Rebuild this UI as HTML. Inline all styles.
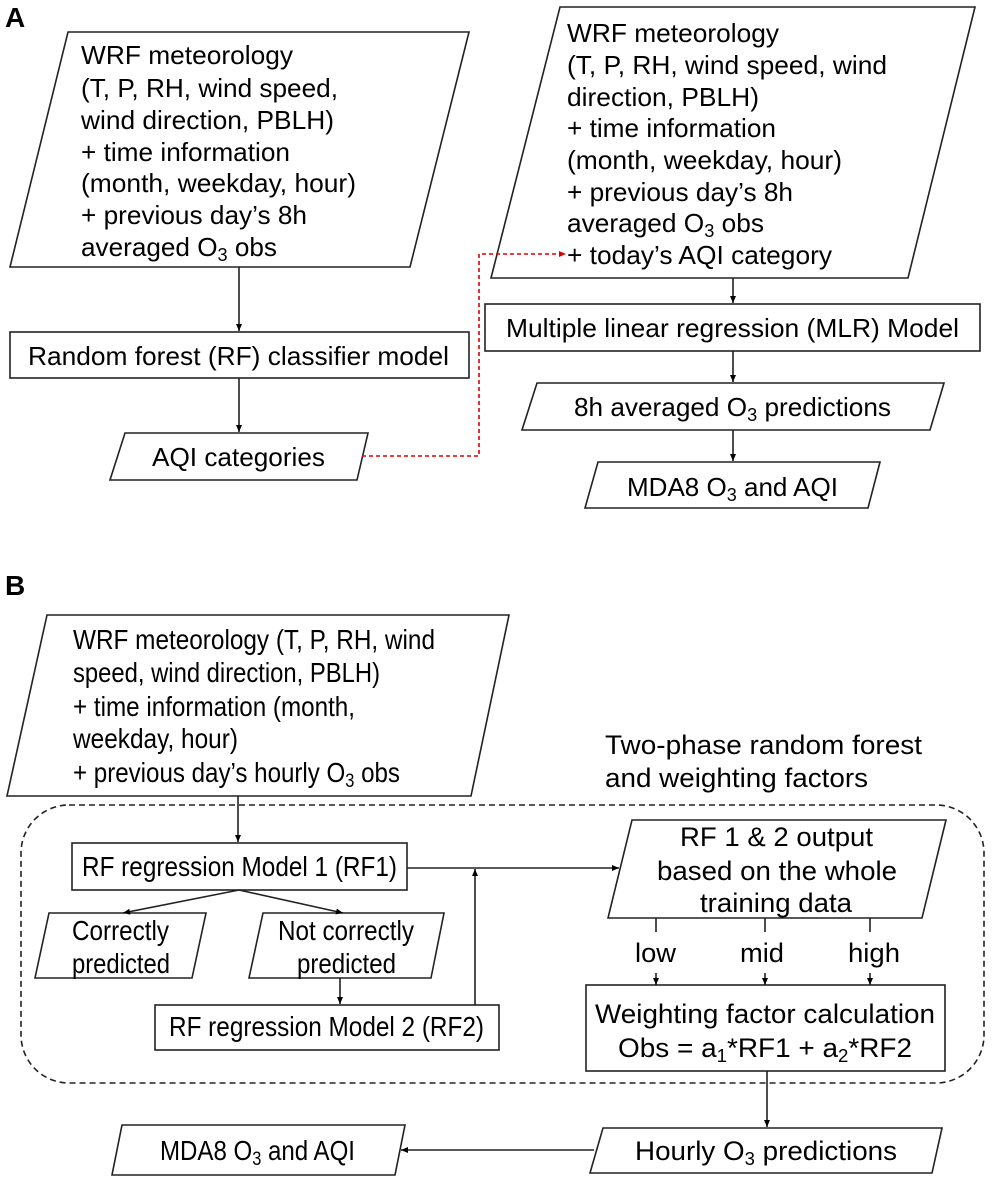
<!DOCTYPE html>
<html><head><meta charset="utf-8"><style>
html,body{margin:0;padding:0;background:#fff;}
svg{display:block;font-family:"Liberation Sans",Arial,sans-serif;}
text{fill:#000;}
</style></head><body>
<svg width="992" height="1184" viewBox="0 0 992 1184" xmlns="http://www.w3.org/2000/svg">
<defs>
<marker id="ah" markerWidth="8" markerHeight="8" refX="7" refY="4" orient="auto" markerUnits="userSpaceOnUse"><path d="M0,1 L7,4 L0,7 z" fill="#000"/></marker>
<marker id="ahr" markerWidth="8" markerHeight="8" refX="7" refY="4" orient="auto" markerUnits="userSpaceOnUse"><path d="M0,1 L7,4 L0,7 z" fill="#d00"/></marker>
</defs>
<g fill="none" stroke="#222" stroke-width="1.6">
<polygon points="68,32 469,32 410,267 10,267" fill="#fff"/>
<rect x="10" y="332" width="459" height="46" fill="#fff"/>
<polygon points="125,433 368,433 357,480 110,480" fill="#fff"/>
<line x1="239" y1="267" x2="239" y2="331" marker-end="url(#ah)"/>
<line x1="239" y1="378" x2="239" y2="432" marker-end="url(#ah)"/>
<polygon points="560,7 975,7 908,278 491,278" fill="#fff"/>
<rect x="485" y="304" width="495" height="47" fill="#fff"/>
<polygon points="537,383 944,383 930,430 522,430" fill="#fff"/>
<polygon points="598,462 880,462 868,508 585,508" fill="#fff"/>
<line x1="733" y1="278" x2="733" y2="303" marker-end="url(#ah)"/>
<line x1="733" y1="351" x2="733" y2="382" marker-end="url(#ah)"/>
<line x1="733" y1="430" x2="733" y2="461" marker-end="url(#ah)"/>
<polygon points="47,615 509,615 471,796 7,796" fill="#fff"/>
<rect x="21" y="805" width="963" height="278" rx="48" ry="48" stroke-dasharray="6,4"/>
<rect x="72" y="843" width="335" height="47" fill="#fff"/>
<polygon points="49,913 206,913 192,978 35,978" fill="#fff"/>
<polygon points="263,913 444,913 431,978 249,978" fill="#fff"/>
<rect x="155" y="1005" width="344" height="45" fill="#fff"/>
<polygon points="632,820 946,820 922,918 608,918" fill="#fff"/>
<rect x="586" y="985" width="359" height="86" fill="#fff"/>
<polygon points="603,1128 942,1128 932,1173 590,1173" fill="#fff"/>
<polygon points="122,1125 405,1125 395,1175 112,1175" fill="#fff"/>
<line x1="238" y1="796" x2="238" y2="842" marker-end="url(#ah)"/>
<line x1="239" y1="890" x2="123" y2="913" marker-end="url(#ah)"/>
<line x1="239" y1="890" x2="343" y2="913" marker-end="url(#ah)"/>
<line x1="340" y1="978" x2="340" y2="1004" marker-end="url(#ah)"/>
<line x1="475" y1="1005" x2="475" y2="869" marker-end="url(#ah)"/>
<line x1="407" y1="868" x2="619" y2="868" marker-end="url(#ah)"/>
<line x1="656" y1="918" x2="656" y2="932"/>
<line x1="765" y1="918" x2="765" y2="932"/>
<line x1="870" y1="918" x2="870" y2="932"/>
<line x1="656" y1="973" x2="656" y2="985" marker-end="url(#ah)"/>
<line x1="765" y1="973" x2="765" y2="985" marker-end="url(#ah)"/>
<line x1="870" y1="973" x2="870" y2="985" marker-end="url(#ah)"/>
<line x1="767" y1="1071" x2="767" y2="1127" marker-end="url(#ah)"/>
<line x1="594" y1="1150" x2="401" y2="1150" marker-end="url(#ah)"/>
</g>
<polyline points="362,456 479,456 479,254 566,254" fill="none" stroke="#d00" stroke-width="1.6" stroke-dasharray="4,3" marker-end="url(#ahr)"/>

<g font-size="26">
<text x="5" y="27" font-size="28" font-weight="bold">A</text>
<text x="81" y="64" textLength="212" lengthAdjust="spacingAndGlyphs">WRF meteorology</text>
<text x="81" y="97" textLength="257" lengthAdjust="spacingAndGlyphs">(T, P, RH, wind speed,</text>
<text x="81" y="129" textLength="253" lengthAdjust="spacingAndGlyphs">wind direction, PBLH)</text>
<text x="81" y="161" textLength="209" lengthAdjust="spacingAndGlyphs">+ time information</text>
<text x="81" y="192" textLength="275" lengthAdjust="spacingAndGlyphs">(month, weekday, hour)</text>
<text x="81" y="224" textLength="226" lengthAdjust="spacingAndGlyphs">+ previous day’s 8h</text>
<text x="81" y="256" textLength="196" lengthAdjust="spacingAndGlyphs">averaged O<tspan font-size="18" dy="5">3</tspan><tspan dy="-5"> obs</tspan></text>
<text x="28" y="365" textLength="421" lengthAdjust="spacingAndGlyphs">Random forest (RF) classifier model</text>
<text x="152" y="466" textLength="173" lengthAdjust="spacingAndGlyphs">AQI categories</text>

<text x="567" y="42" textLength="212" lengthAdjust="spacingAndGlyphs">WRF meteorology</text>
<text x="567" y="74" textLength="320" lengthAdjust="spacingAndGlyphs">(T, P, RH, wind speed, wind</text>
<text x="567" y="106" textLength="192" lengthAdjust="spacingAndGlyphs">direction, PBLH)</text>
<text x="567" y="137" textLength="209" lengthAdjust="spacingAndGlyphs">+ time information</text>
<text x="567" y="169" textLength="275" lengthAdjust="spacingAndGlyphs">(month, weekday, hour)</text>
<text x="567" y="201" textLength="226" lengthAdjust="spacingAndGlyphs">+ previous day’s 8h</text>
<text x="567" y="232" textLength="197" lengthAdjust="spacingAndGlyphs">averaged O<tspan font-size="18" dy="5">3</tspan><tspan dy="-5"> obs</tspan></text>
<text x="567" y="264" textLength="265" lengthAdjust="spacingAndGlyphs">+ today’s AQI category</text>
<text x="506" y="337" textLength="453" lengthAdjust="spacingAndGlyphs">Multiple linear regression (MLR) Model</text>
<text x="574" y="416" textLength="317" lengthAdjust="spacingAndGlyphs">8h averaged O<tspan font-size="18" dy="5">3</tspan><tspan dy="-5"> predictions</tspan></text>
<text x="627" y="496" textLength="211" lengthAdjust="spacingAndGlyphs">MDA8 O<tspan font-size="18" dy="5">3</tspan><tspan dy="-5"> and AQI</tspan></text>

<text x="5" y="595" font-size="28" font-weight="bold">B</text>
<text x="73" y="649" font-size="28" textLength="362" lengthAdjust="spacingAndGlyphs">WRF meteorology (T, P, RH, wind</text>
<text x="73" y="682" font-size="28" textLength="307" lengthAdjust="spacingAndGlyphs">speed, wind direction, PBLH)</text>
<text x="73" y="716" font-size="28" textLength="282" lengthAdjust="spacingAndGlyphs">+ time information (month,</text>
<text x="73" y="748" font-size="28" textLength="165" lengthAdjust="spacingAndGlyphs">weekday, hour)</text>
<text x="73" y="782" font-size="28" textLength="327" lengthAdjust="spacingAndGlyphs">+ previous day’s hourly O<tspan font-size="19" dy="5">3</tspan><tspan dy="-5"> obs</tspan></text>
<text x="605" y="754" font-size="27" textLength="317" lengthAdjust="spacingAndGlyphs">Two-phase random forest</text>
<text x="605" y="787" font-size="27" textLength="263" lengthAdjust="spacingAndGlyphs">and weighting factors</text>
<text x="82" y="876" font-size="28" textLength="315" lengthAdjust="spacingAndGlyphs">RF regression Model 1 (RF1)</text>
<text x="72" y="940" font-size="28" textLength="97" lengthAdjust="spacingAndGlyphs">Correctly</text>
<text x="72" y="973" font-size="28" textLength="98" lengthAdjust="spacingAndGlyphs">predicted</text>
<text x="278" y="940" font-size="28" textLength="136" lengthAdjust="spacingAndGlyphs">Not correctly</text>
<text x="297" y="973" font-size="28" textLength="99" lengthAdjust="spacingAndGlyphs">predicted</text>
<text x="169" y="1036" font-size="28" textLength="315" lengthAdjust="spacingAndGlyphs">RF regression Model 2 (RF2)</text>
<text x="680" y="846" font-size="27" textLength="193" lengthAdjust="spacingAndGlyphs">RF 1 &amp; 2 output</text>
<text x="657" y="880" font-size="27" textLength="240" lengthAdjust="spacingAndGlyphs">based on the whole</text>
<text x="700" y="912" font-size="27" textLength="152" lengthAdjust="spacingAndGlyphs">training data</text>
<text x="635" y="962" font-size="27" textLength="41" lengthAdjust="spacingAndGlyphs">low</text>
<text x="740" y="962" font-size="27" textLength="44" lengthAdjust="spacingAndGlyphs">mid</text>
<text x="848" y="962" font-size="27" textLength="52" lengthAdjust="spacingAndGlyphs">high</text>
<text x="595" y="1023" font-size="27" textLength="340" lengthAdjust="spacingAndGlyphs">Weighting factor calculation</text>
<text x="618" y="1057" font-size="27" textLength="294" lengthAdjust="spacingAndGlyphs">Obs = a<tspan font-size="18" dy="5">1</tspan><tspan dy="-5">*RF1 + a</tspan><tspan font-size="18" dy="5">2</tspan><tspan dy="-5">*RF2</tspan></text>
<text x="635" y="1160" font-size="27" textLength="262" lengthAdjust="spacingAndGlyphs">Hourly O<tspan font-size="18" dy="5">3</tspan><tspan dy="-5"> predictions</tspan></text>
<text x="160" y="1160" font-size="28" textLength="195" lengthAdjust="spacingAndGlyphs">MDA8 O<tspan font-size="19" dy="5">3</tspan><tspan dy="-5"> and AQI</tspan></text>
</g>
</svg>
</body></html>
